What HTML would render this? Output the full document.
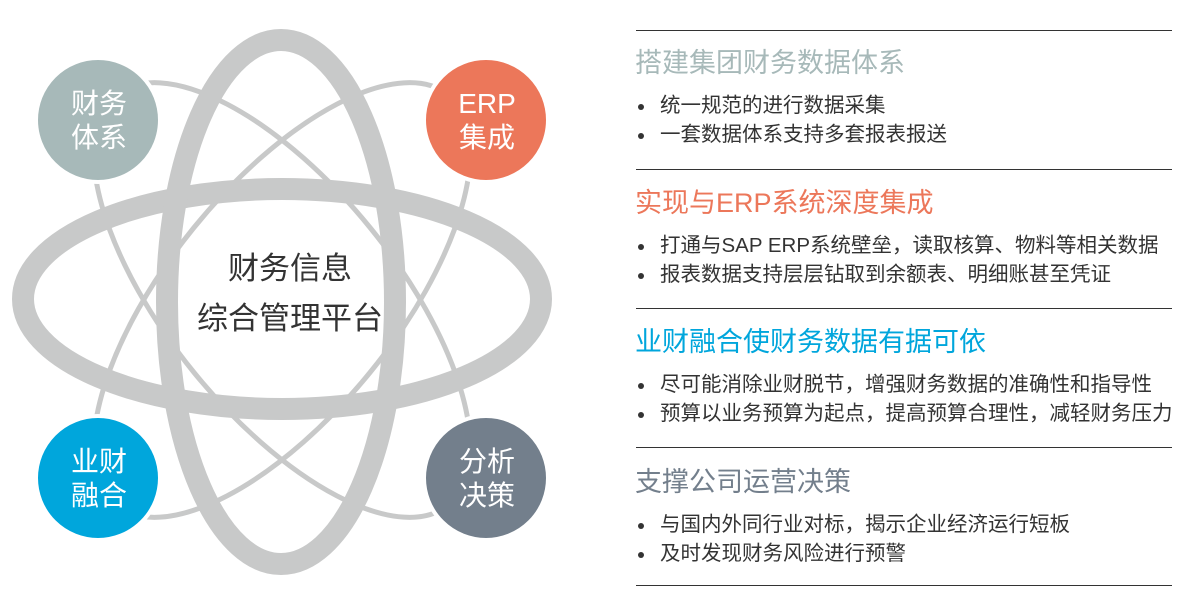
<!DOCTYPE html>
<html><head><meta charset="utf-8"><style>
body{margin:0;width:1200px;height:600px;background:#fff;overflow:hidden;font-family:"Liberation Sans","Noto Sans CJK SC",sans-serif;}
.line{position:absolute;left:636px;width:536px;height:1px;background:#333;}
.h{position:absolute;left:635px;font-size:27px;line-height:30px;white-space:nowrap;}
.b{position:absolute;left:660px;font-size:20.5px;line-height:24px;color:#333;white-space:nowrap;}
.b:before{content:"";position:absolute;left:-22px;top:10px;width:6px;height:6px;border-radius:50%;background:#333;}
</style></head><body>
<svg width="600" height="600" style="position:absolute;left:0;top:0">
<g fill="none" stroke="#c8c9c9">
<ellipse cx="282" cy="300" rx="264" ry="114" stroke-width="5" transform="rotate(51 282 300)"/>
<ellipse cx="282" cy="300" rx="264" ry="114" stroke-width="5" transform="rotate(-51 282 300)"/>
<ellipse cx="282" cy="299" rx="259" ry="110" stroke-width="22"/>
<ellipse cx="281" cy="302" rx="114" ry="262" stroke-width="22"/>
</g>
<g stroke="#fff" stroke-width="4">
<circle cx="98" cy="120" r="62" fill="#a7b9b9"/>
<circle cx="486" cy="120" r="62" fill="#ec775a"/>
<circle cx="98" cy="478" r="62" fill="#00a6dc"/>
<circle cx="486" cy="478" r="62" fill="#737f8c"/>
</g>
<g font-family="Liberation Sans, Noto Sans CJK SC, sans-serif" font-size="28" fill="#fff" text-anchor="middle">
<text x="99" y="113">财务</text><text x="99" y="147">体系</text>
<text x="487" y="113">ERP</text><text x="487" y="147">集成</text>
<text x="99" y="471">业财</text><text x="99" y="505">融合</text>
<text x="487" y="471">分析</text><text x="487" y="505">决策</text>
</g>
<g font-family="Liberation Sans, Noto Sans CJK SC, sans-serif" font-size="31" fill="#333" text-anchor="middle">
<text x="290" y="279">财务信息</text><text x="290" y="329">综合管理平台</text>
</g>
</svg>
<div class="line" style="top:30px"></div>
<div class="h" style="top:48px;color:#a7b9b9">搭建集团财务数据体系</div>
<div class="b" style="top:94px">统一规范的进行数据采集</div>
<div class="b" style="top:123px">一套数据体系支持多套报表报送</div>
<div class="line" style="top:169px"></div>
<div class="h" style="top:188px;color:#ec775a">实现与ERP系统深度集成</div>
<div class="b" style="top:234px">打通与SAP ERP系统壁垒，读取核算、物料等相关数据</div>
<div class="b" style="top:263px">报表数据支持层层钻取到余额表、明细账甚至凭证</div>
<div class="line" style="top:308px"></div>
<div class="h" style="top:327px;color:#00a6dc">业财融合使财务数据有据可依</div>
<div class="b" style="top:373px">尽可能消除业财脱节，增强财务数据的准确性和指导性</div>
<div class="b" style="top:402px">预算以业务预算为起点，提高预算合理性，减轻财务压力</div>
<div class="line" style="top:447px"></div>
<div class="h" style="top:467px;color:#737f8c">支撑公司运营决策</div>
<div class="b" style="top:513px">与国内外同行业对标，揭示企业经济运行短板</div>
<div class="b" style="top:542px">及时发现财务风险进行预警</div>
<div class="line" style="top:585px"></div>
</body></html>
